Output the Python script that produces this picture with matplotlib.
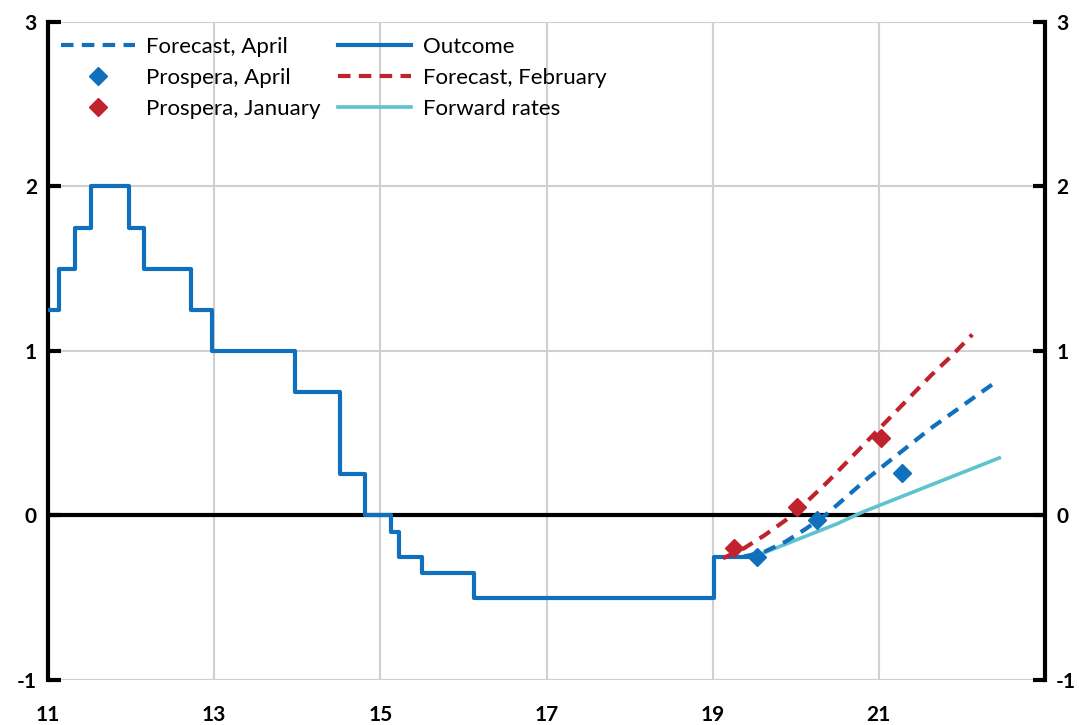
import matplotlib.pyplot as plt

# Repo rate outcome (steps), x in years since 2000
outcome_x = [11.0, 11.13, 11.33, 11.52, 11.97, 12.15, 12.72, 12.97, 13.97,
             14.52, 14.82, 15.13, 15.23, 15.50, 16.13, 19.02, 19.50]
outcome_y = [1.25, 1.50, 1.75, 2.00, 1.75, 1.50, 1.25, 1.00, 0.75,
             0.25, 0.00, -0.10, -0.25, -0.35, -0.50, -0.25, -0.25]

# Forecast, April (quarterly)
apr_x = [19.375, 19.625, 19.875, 20.125, 20.375, 20.625, 20.875,
         21.125, 21.375, 21.625, 21.875, 22.125, 22.375]
apr_y = [-0.25, -0.22, -0.16, -0.08, 0.01, 0.12, 0.23,
         0.33, 0.43, 0.53, 0.62, 0.71, 0.80]

# Forecast, February (quarterly)
feb_x = [19.125, 19.375, 19.625, 19.875, 20.125, 20.375, 20.625,
         20.875, 21.125, 21.375, 21.625, 21.875, 22.125]
feb_y = [-0.26, -0.20, -0.12, -0.03, 0.08, 0.20, 0.33,
         0.46, 0.59, 0.72, 0.85, 0.97, 1.10]

# Forward rates
fwd_x = [19.55, 19.9, 20.2, 20.5, 20.8, 21.1, 21.4, 21.7, 22.0, 22.2, 22.45]
fwd_y = [-0.24, -0.17, -0.11, -0.05, 0.02, 0.08, 0.14, 0.20, 0.26, 0.30, 0.35]

# Prospera surveys
pros_apr_x = [19.53, 20.26, 21.28]
pros_apr_y = [-0.25, -0.03, 0.26]
pros_jan_x = [19.26, 20.01, 21.02]
pros_jan_y = [-0.20, 0.05, 0.47]

yticks = [-1, 0, 1, 2, 3]
xticks = [11, 13, 15, 17, 19, 21]

blue = "#1070BE"
red = "#C0222E"
cyan = "#5EC3CE"

plt.rcParams['font.family'] = ['Lato', 'DejaVu Sans']

fig = plt.figure(figsize=(10.79, 7.25), dpi=100)
ax = fig.add_axes([0.0445, 0.0621, 0.924, 0.9076])

ax.set_xlim(11, 23)
ax.set_ylim(-1, 3)
ax.set_yticks(yticks)
ax.set_xticks(xticks)
ax.set_xticklabels([str(t) for t in xticks], fontweight="bold", fontsize=15)
ax.set_yticklabels([str(t) for t in yticks], fontweight="bold", fontsize=15)
ax.grid(True, color="#d0d0d0", linewidth=1.5, zorder=0)
ax.set_axisbelow(True)
ax.axhline(0, color="black", linewidth=3, zorder=2)

for s in ["top", "bottom"]:
    ax.spines[s].set_visible(False)
for s in ["left", "right"]:
    ax.spines[s].set_linewidth(3)
    ax.spines[s].set_color("black")

ax.tick_params(axis="y", direction="in", length=9, width=3,
               left=True, right=True, labelleft=True, labelright=True, pad=8)
ax.tick_params(axis="x", length=0, pad=18)

l_fwd, = ax.plot(fwd_x, fwd_y, color=cyan, linewidth=2.6, zorder=3,
                 label="Forward rates")
l_out, = ax.plot(outcome_x, outcome_y, color=blue, linewidth=3,
                 drawstyle="steps-post", zorder=4, label="Outcome")
l_feb, = ax.plot(feb_x, feb_y, color=red, linewidth=3, dashes=(3, 2),
                 zorder=4, label="Forecast, February")
l_apr, = ax.plot(apr_x, apr_y, color=blue, linewidth=3, dashes=(3, 2),
                 zorder=4, label="Forecast, April")
p_jan, = ax.plot(pros_jan_x, pros_jan_y, "D", color=red, markersize=9.5,
                 linestyle="none", zorder=5, label="Prospera, January")
p_apr, = ax.plot(pros_apr_x, pros_apr_y, "D", color=blue, markersize=9.5,
                 linestyle="none", zorder=5, label="Prospera, April")

handles = [l_apr, p_apr, p_jan, l_out, l_feb, l_fwd]
ax.legend(handles=handles, loc="upper left", ncol=2, frameon=False,
          fontsize=16, handlelength=3.3, columnspacing=0.8,
          labelspacing=0.48, borderaxespad=0.2, handletextpad=0.5,
          bbox_to_anchor=(0.0, 0.997))

fig.savefig("out.png", dpi=100)
